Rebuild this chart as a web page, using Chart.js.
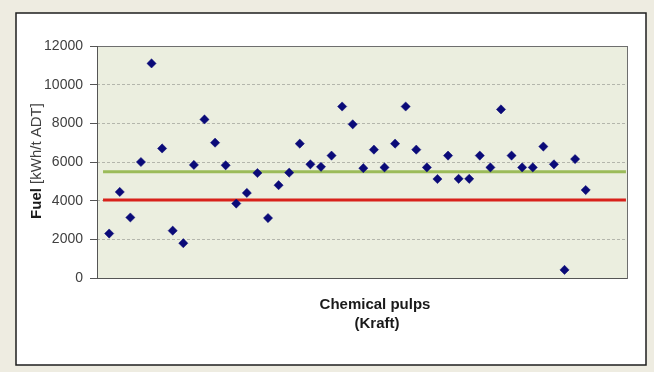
<!DOCTYPE html>
<html>
<head>
<meta charset="utf-8">
<script src="https://cdn.jsdelivr.net/npm/chart.js@4/dist/chart.umd.min.js"></script>
<style>
  html, body { margin: 0; padding: 0; background: #EEECE1; }
  #wrap { width: 654px; height: 372px; }
</style>
</head>
<body>
<div id="wrap"><canvas id="c" width="654" height="372"></canvas></div>
<script>
// Mill positions along the x axis (one per mill)
const millIndex = [
  1, 2, 3, 4, 5, 6, 7, 8, 9, 10, 11, 12, 13, 14, 15, 16, 17, 18, 19, 20, 21, 22, 23,
  24, 25, 26, 27, 28, 29, 30, 31, 32, 33, 34, 35, 36, 37, 38, 39, 40, 41, 42, 43, 44, 45, 46
];
// Fuel consumption per mill, kWh/t ADT
const fuelValues = [
  2300, 4450, 3130, 6000, 11100, 6700, 2450, 1800, 5850, 8200, 7000, 5830, 3850, 4400, 5430,
  3100, 4800, 5450, 6950, 5880, 5750, 6330, 8870, 7950, 5680, 6640, 5720, 6950, 8870, 6640,
  5720, 5120, 6330, 5130, 5130, 6330, 5720, 8720, 6330, 5720, 5720, 6800, 5880, 420, 6150, 4550
];
// Horizontal reference levels
const upperRefLevel = 5500;
const lowerRefLevel = 4030;
const refLineSpan = [0.42, 49.8];
// Value axis ticks
const yTicks = [0, 2000, 4000, 6000, 8000, 10000, 12000];

const FONT = '"Liberation Sans", Arial, sans-serif';

const points = millIndex.map((m, i) => ({ x: m, y: fuelValues[i] }));
const refLine = (v) => refLineSpan.map(x => ({ x, y: v }));

const framePlugin = {
  id: 'frame',
  beforeDraw(chart) {
    const { ctx, chartArea: a } = chart;
    ctx.save();
    ctx.fillStyle = '#EEECE1';
    ctx.fillRect(0, 0, chart.width, chart.height);
    ctx.fillStyle = '#FFFFFF';
    ctx.fillRect(16, 13, 630, 352);
    ctx.strokeStyle = '#1e1e1e';
    ctx.lineWidth = 1.5;
    ctx.strokeRect(16, 13, 630, 352);
    ctx.fillStyle = '#EBEEDF';
    ctx.fillRect(a.left, a.top, a.right - a.left, a.bottom - a.top);
    ctx.restore();
  },
  beforeDatasetsDraw(chart) {
    const { ctx, chartArea: a } = chart;
    ctx.save();
    ctx.strokeStyle = '#6e6e6e';
    ctx.lineWidth = 1;
    ctx.strokeRect(Math.round(a.left) + 0.5, Math.round(a.top) + 0.5,
                   Math.round(a.right - a.left), Math.round(a.bottom - a.top));
    ctx.strokeStyle = '#555';
    ctx.beginPath();
    ctx.moveTo(Math.round(a.left) + 0.5, a.top);
    ctx.lineTo(Math.round(a.left) + 0.5, a.bottom + 1);
    ctx.moveTo(a.left, Math.round(a.bottom) + 0.5);
    ctx.lineTo(a.right, Math.round(a.bottom) + 0.5);
    ctx.stroke();
    ctx.restore();
  },
  afterDraw(chart) {
    const { ctx, chartArea: a } = chart;
    ctx.save();
    // Value axis title: bold quantity, regular unit
    const boldPart = 'Fuel';
    const normPart = ' [kWh/t ADT]';
    ctx.translate(37, (a.top + a.bottom) / 2 - 1);
    ctx.rotate(-Math.PI / 2);
    ctx.textBaseline = 'middle';
    ctx.textAlign = 'left';
    ctx.font = 'bold 15px ' + FONT;
    const wb = ctx.measureText(boldPart).width;
    ctx.font = '15px ' + FONT;
    const wn = ctx.measureText(normPart).width;
    const x0 = -(wb + wn) / 2;
    ctx.fillStyle = '#1a1a1a';
    ctx.font = 'bold 15px ' + FONT;
    ctx.fillText(boldPart, x0, 0);
    ctx.fillStyle = '#404040';
    ctx.font = '15px ' + FONT;
    ctx.fillText(normPart, x0 + wb, 0);
    ctx.restore();

    // Category title under the plot
    ctx.save();
    ctx.fillStyle = '#1a1a1a';
    ctx.font = 'bold 15px ' + FONT;
    ctx.textAlign = 'center';
    ctx.textBaseline = 'middle';
    const cx = a.left + 278;
    ctx.fillText('Chemical pulps', cx, a.bottom + 27);
    ctx.fillText('(Kraft)', cx + 2, a.bottom + 46);
    ctx.restore();
  }
};

new Chart(document.getElementById('c'), {
  type: 'scatter',
  data: {
    datasets: [
      {
        label: 'Fuel',
        data: points,
        order: 0,
        pointStyle: 'rectRot',
        pointRadius: 4.6,
        pointBackgroundColor: '#0a0a78',
        pointBorderColor: '#0a0a78',
        pointBorderWidth: 0.5
      },
      {
        type: 'line',
        label: 'upper',
        data: refLine(upperRefLevel),
        order: 1,
        borderColor: '#9BBB59',
        borderWidth: 3,
        pointRadius: 0,
        fill: false
      },
      {
        type: 'line',
        label: 'lower',
        data: refLine(lowerRefLevel),
        order: 2,
        borderColor: '#D8211A',
        borderWidth: 3,
        pointRadius: 0,
        fill: false
      }
    ]
  },
  options: {
    responsive: false,
    animation: false,
    devicePixelRatio: 1,
    layout: { padding: { left: 0, right: 27, top: 46, bottom: 94 } },
    plugins: {
      legend: { display: false },
      tooltip: { enabled: false }
    },
    scales: {
      x: {
        type: 'linear',
        min: -0.15,
        max: 49.9,
        display: false
      },
      y: {
        min: 0,
        max: 12000,
        afterFit(scale) { scale.width = 97; },
        afterBuildTicks(scale) { scale.ticks = yTicks.map(v => ({ value: v })); },
        ticks: {
          color: '#404040',
          font: { family: FONT, size: 14 },
          padding: 7,
          callback: (v) => String(v)
        },
        border: { display: false, dash: [3, 2] },
        grid: {
          color: (c) => (c.tick && (c.tick.value === 0 || c.tick.value === 12000)) ? 'rgba(0,0,0,0)' : '#B4B6AC',
          lineWidth: 1,
          tickLength: 7,
          tickColor: '#555',
          tickBorderDash: []
        }
      }
    }
  },
  plugins: [framePlugin]
});
</script>
</body>
</html>
